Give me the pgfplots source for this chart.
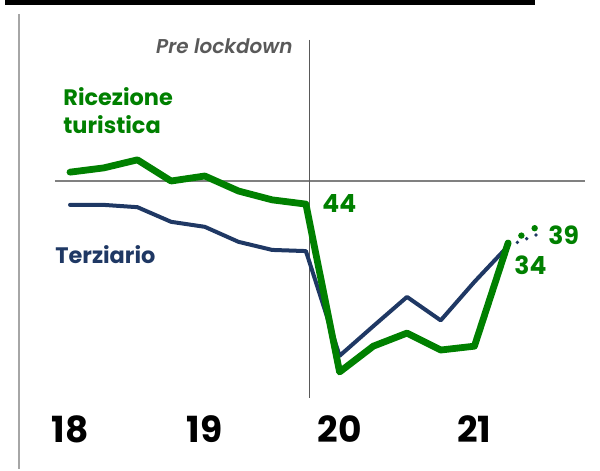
\documentclass[border=0pt]{standalone}
\usepackage{fontspec}
\setmainfont{Poppins}[BoldFont={Poppins SemiBold}, BoldItalicFont={Poppins SemiBold Italic}]
\newfontfamily\pbold{Poppins Bold}
\usepackage{pgfplots}
\pgfplotsset{compat=1.18}
\definecolor{gr}{HTML}{008000}
\definecolor{nv}{HTML}{1F3864}
\definecolor{lg}{HTML}{A6A6A6}
\definecolor{mg}{HTML}{808080}
\definecolor{tg}{HTML}{595959}
\newcommand{\px}[2]{(rel axis cs:#1/600,1-#2/469)}
\begin{document}
\begin{tikzpicture}
\begin{axis}[
  scale only axis, width=300pt, height=234.5pt,
  xmin=-2.0772, xmax=15.727, ymin=-24.805, ymax=97.013,
  axis line style={draw=none}, tick style={draw=none},
  ytick=\empty,
  xtick={0,4,8,12}, xticklabels={{\pbold 18},{\pbold 19},{\pbold 20},{\pbold 21}},
  xticklabel style={anchor=base, yshift=13.5pt, font=\fontsize{18}{18}\selectfont},
  /pgf/number format/assume math mode=true,
  clip=false]
\path \px{0}{0} rectangle \px{600}{469};
% decorations
\fill[black] \px{5}{0} rectangle \px{535}{5};
\draw[lg, line width=1.2pt] \px{19}{14} -- \px{19}{469};
\draw[mg, line width=0.75pt] \px{55}{181} -- \px{585}{181};
\draw[tg, line width=0.5pt] \px{309}{40} -- \px{309}{398};
% data
\addplot[nv, line width=2pt, line join=round, line cap=round] coordinates {
(0,43.8)(1,43.8)(2,43.2)(3,39.4)(4,38.1)(5,34.2)(6,32.1)(7,31.8)(8,4.6)(9,12.3)(10,19.9)(11,13.8)(12,23.8)(13,33.1)};
\addplot[nv, line width=1.9pt, line cap=round, dash pattern=on 0pt off 5pt] coordinates {
(13,33.1)(13.89,36.2)};
\addplot[gr, line width=3.4pt, line join=round, line cap=round] coordinates {
(0,52.3)(1,53.4)(2,55.5)(3,50.0)(4,51.3)(5,47.4)(6,45.1)(7,44.0)(8,0.4)(9,7.1)(10,10.5)(11,6.1)(12,7.1)(13,33.9)};
\addplot[gr, line width=3.2pt, line cap=round, dash pattern=on 0pt off 7.6pt] coordinates {
(13,33.9)(13.8,37.8)};
% text
\node[anchor=base west, inner sep=0pt, text=gr, font=\fontsize{11.2}{12}\selectfont\pbold] at \px{63}{105} {Ricezione};
\node[anchor=base west, inner sep=0pt, text=gr, font=\fontsize{11.2}{12}\selectfont\pbold] at \px{63}{133} {turistica};
\node[anchor=base west, inner sep=0pt, text=nv, font=\fontsize{11.2}{12}\selectfont\pbold] at \px{55}{263} {Terziario};
\node[anchor=base east, inner sep=0pt, text=tg, font=\fontsize{10}{10}\selectfont\bfseries\itshape] at \px{293}{54} {Pre lockdown};
\node[anchor=base west, inner sep=0pt, text=gr, font=\fontsize{12.5}{12.5}\selectfont\pbold] at \px{322}{212} {44};
\node[anchor=base west, inner sep=0pt, text=gr, font=\fontsize{12.5}{12.5}\selectfont\pbold] at \px{514}{274} {34};
\node[anchor=base west, inner sep=0pt, text=gr, font=\fontsize{12.5}{12.5}\selectfont\pbold] at \px{548}{244} {39};
\end{axis}
\end{tikzpicture}
\end{document}
